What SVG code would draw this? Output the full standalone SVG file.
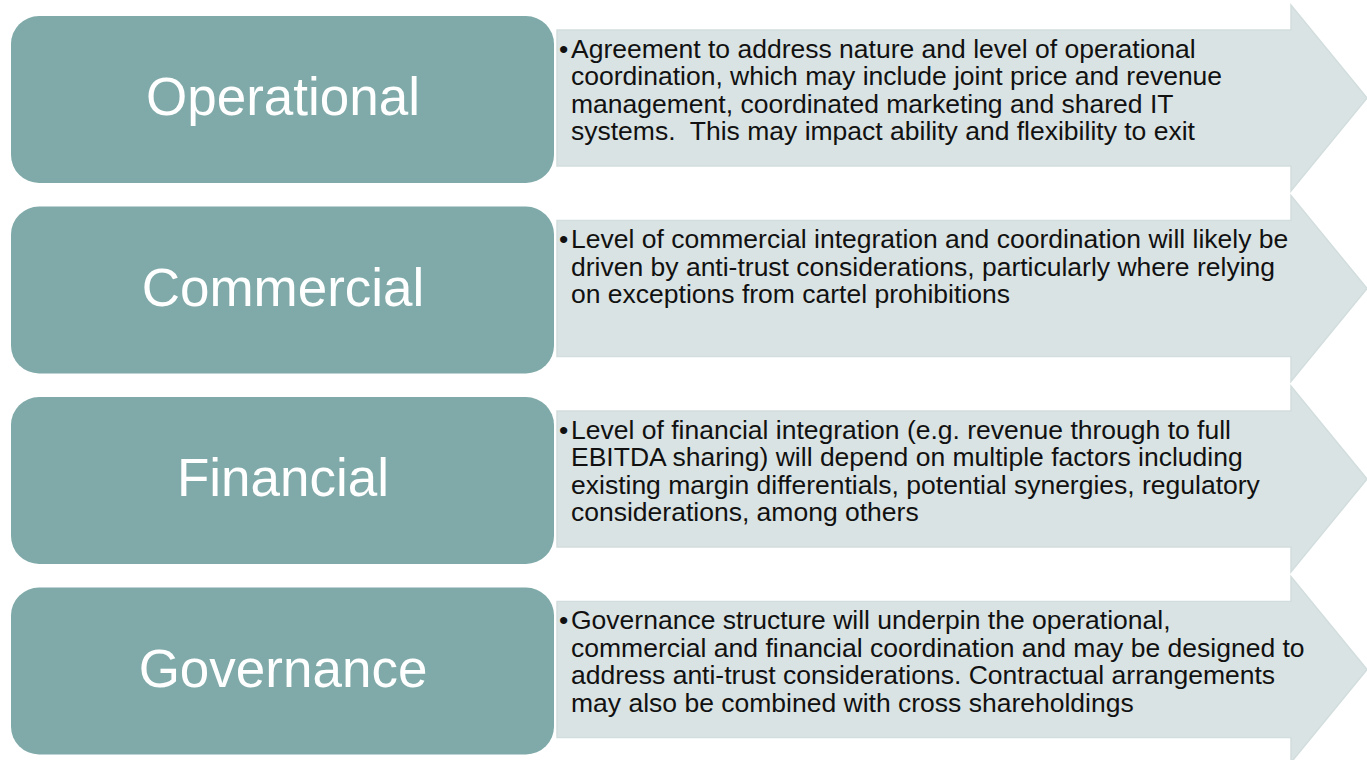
<svg xmlns="http://www.w3.org/2000/svg" width="1367" height="760" viewBox="0 0 1367 760">
  <style>
    .box { fill: #7faaa9; }
    .arrow { fill: #dae3e3; stroke: #d2dddd; stroke-width: 1.5; }
    .label { font-family: "Liberation Sans", Arial, sans-serif; font-size: 53px; fill: #ffffff; text-anchor: middle; }
    .body { font-family: "Liberation Sans", Arial, sans-serif; font-size: 26.5px; fill: #111111; }
  </style>
  <defs>
    <!-- block arrow shape, drawn at row origin -->
    <path id="blockArrow" d="M557 25 H1291 V0 L1367 93 L1291 186 V161 H557 Z"/>
  </defs>
  <rect width="1367" height="760" fill="#ffffff"/>

  <g id="operational">
    <use href="#blockArrow" class="arrow" transform="translate(0,5)"/>
    <rect class="box" x="11" y="16" width="543" height="167" rx="28"/>
    <text class="label" x="283" y="115">Operational</text>
    <text class="body">
      <tspan x="559" y="57.5">•</tspan><tspan x="571" y="57.5">Agreement to address nature and level of operational</tspan>
      <tspan x="571" y="85">coordination, which may include joint price and revenue</tspan>
      <tspan x="571" y="112.5">management, coordinated marketing and shared IT</tspan>
      <tspan x="571" y="140" xml:space="preserve">systems.  This may impact ability and flexibility to exit</tspan>
    </text>
  </g>

  <g id="commercial">
    <use href="#blockArrow" class="arrow" transform="translate(0,195.5)"/>
    <rect class="box" x="11" y="206.5" width="543" height="167" rx="28"/>
    <text class="label" x="283" y="305.5">Commercial</text>
    <text class="body">
      <tspan x="559" y="248">•</tspan><tspan x="571" y="248">Level of commercial integration and coordination will likely be</tspan>
      <tspan x="571" y="275.5">driven by anti-trust considerations, particularly where relying</tspan>
      <tspan x="571" y="303">on exceptions from cartel prohibitions</tspan>
    </text>
  </g>

  <g id="financial">
    <use href="#blockArrow" class="arrow" transform="translate(0,386)"/>
    <rect class="box" x="11" y="397" width="543" height="167" rx="28"/>
    <text class="label" x="283" y="496">Financial</text>
    <text class="body">
      <tspan x="559" y="438.5">•</tspan><tspan x="571" y="438.5">Level of financial integration (e.g. revenue through to full</tspan>
      <tspan x="571" y="466">EBITDA sharing) will depend on multiple factors including</tspan>
      <tspan x="571" y="493.5">existing margin differentials, potential synergies, regulatory</tspan>
      <tspan x="571" y="521">considerations, among others</tspan>
    </text>
  </g>

  <g id="governance">
    <use href="#blockArrow" class="arrow" transform="translate(0,576.5)"/>
    <rect class="box" x="11" y="587.5" width="543" height="167" rx="28"/>
    <text class="label" x="283" y="686.5">Governance</text>
    <text class="body">
      <tspan x="559" y="629">•</tspan><tspan x="571" y="629">Governance structure will underpin the operational,</tspan>
      <tspan x="571" y="656.5">commercial and financial coordination and may be designed to</tspan>
      <tspan x="571" y="684">address anti-trust considerations. Contractual arrangements</tspan>
      <tspan x="571" y="711.5">may also be combined with cross shareholdings</tspan>
    </text>
  </g>

  <g id="connectors"></g>
</svg>
